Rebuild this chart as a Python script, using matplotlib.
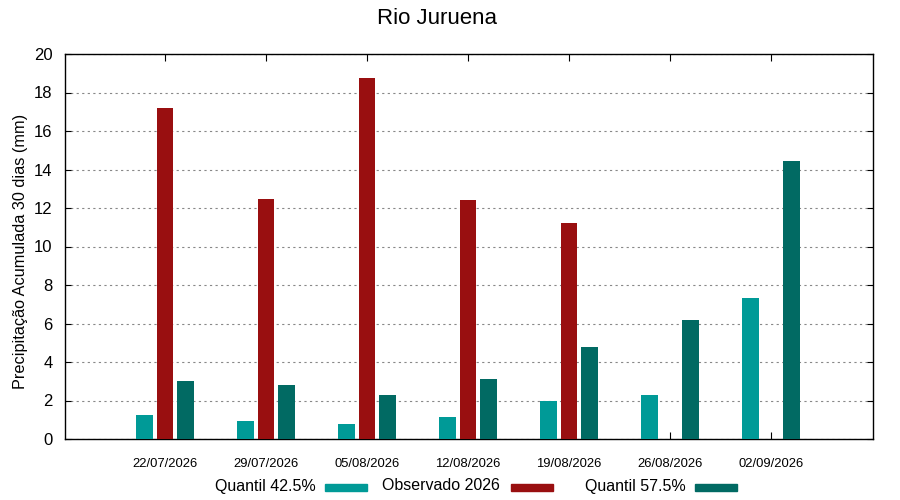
import numpy as np
import matplotlib
matplotlib.use('Agg')
import matplotlib.pyplot as plt
from matplotlib.patches import Rectangle

plt.rcParams['font.family'] = ['Liberation Sans', 'DejaVu Sans']

# dados
datas = ['22/07/2026', '29/07/2026', '05/08/2026', '12/08/2026',
         '19/08/2026', '26/08/2026', '02/09/2026']
q425 = [1.25, 0.93, 0.78, 1.14, 1.99, 2.28, 7.32]
obs2026 = [17.19, 12.47, 18.75, 12.42, 11.22, np.nan, np.nan]
q575 = [3.01, 2.80, 2.29, 3.12, 4.78, 6.18, 14.44]

nomes = ['Quantil 42.5%', 'Observado 2026', 'Quantil 57.5%']
cores = ['#009a97', '#990f10', '#016a63']

x = np.arange(len(datas))
larg = 0.165

W, H = 900, 500
fig = plt.figure(figsize=(9, 5), dpi=100)
ax = fig.add_axes([65 / W, 61 / H, 808 / W, 385 / H])

ax.bar(x - 0.2, q425, larg, color=cores[0], zorder=3)
ax.bar(x, obs2026, larg, color=cores[1], zorder=3)
ax.bar(x + 0.205, q575, larg, color=cores[2], zorder=3)

ax.set_xlim(-0.99, 7.01)
ax.set_ylim(0, 20)
ax.set_yticks(np.arange(0, 21, 2))
ax.set_xticks(x)
ax.set_xticklabels(datas, fontsize=9.4)
ax.tick_params(axis='y', labelsize=12, direction='in', right=True, length=4, pad=9)
ax.tick_params(axis='x', direction='in', top=True, length=5, pad=14)
ax.yaxis.grid(True, linestyle=(0, (2, 3)), color='#888888', linewidth=0.8, zorder=0)
for s in ax.spines.values():
    s.set_linewidth(1.0)

ax.set_ylabel('Precipitação Acumulada 30 dias (mm)', fontsize=11.7)
ax.yaxis.set_label_coords((28 - 65) / 808, 0.488)

fig.text(437 / W, 1 - 18 / H, 'Rio Juruena', fontsize=16, ha='center', va='center')

# legenda no estilo gnuplot: texto e depois a amostra
fim_texto = [316, 500, 686]
amostra = [(325, 367), (511, 553), (695, 737)]
for nome, cor, xt, (a0, a1) in zip(nomes, cores, fim_texto, amostra):
    fig.text(xt / W, 1 - 486 / H, nome, fontsize=11.5, ha='right', va='center')
    fig.add_artist(Rectangle((a0 / W, 1 - 491 / H), (a1 - a0) / W, 7 / H,
                             transform=fig.transFigure, color=cor))

fig.savefig('out.png', dpi=100)
